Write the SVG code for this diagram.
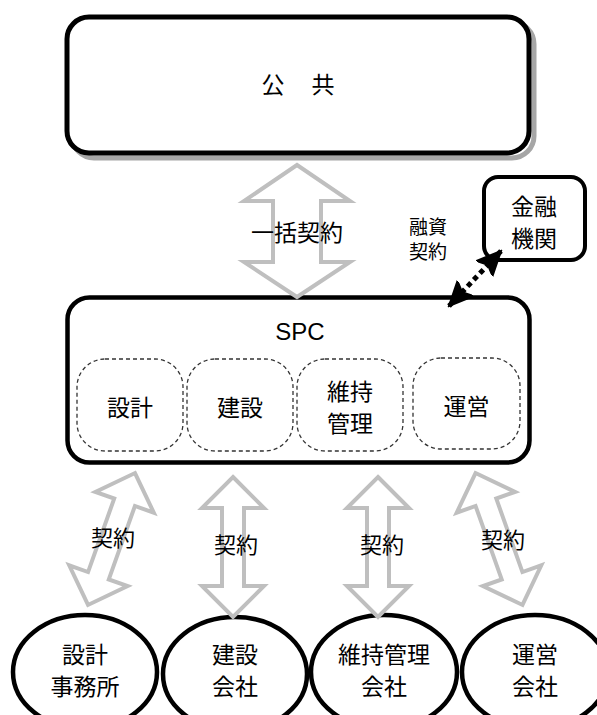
<svg xmlns="http://www.w3.org/2000/svg" width="597" height="715" viewBox="0 0 597 715">
<style>
  .t { font-family: "Noto Sans CJK JP", "Noto Sans", sans-serif; fill: #000; text-anchor: middle; }
  .l { font-size: 23px; }
  .s { font-size: 22px; }
  .xs { font-size: 19px; }
  .box { fill: #fff; stroke: #000; }
  .sub { fill: none; stroke: #333; stroke-width: 1.3; stroke-dasharray: 4 3; }
  .ell { fill: #fff; stroke: #000; stroke-width: 4.5; }
  .garrow { fill: #fff; stroke: #bfbfbf; stroke-width: 4; stroke-linejoin: miter; }
</style>
<defs>
  <path id="sa" d="M0,-70 L31,-39 L11,-39 L11,39 L31,39 L0,70 L-31,39 L-11,39 L-11,-39 L-31,-39 Z"/>
  <marker id="ah" markerUnits="userSpaceOnUse" viewBox="0 0 26 26" markerWidth="26" markerHeight="26" refX="24" refY="13" orient="auto-start-reverse">
    <path d="M0,2 L24,13 L0,24 L5,13 Z" fill="#000" stroke="#000" stroke-width="2" stroke-linejoin="miter"/>
  </marker>
</defs>

<g id="koukyou">
  <rect x="72" y="22" width="462" height="136" rx="22" fill="none" stroke="#a6a6a6" stroke-width="5"/>
  <rect class="box" x="67" y="17" width="462" height="136" rx="22" stroke-width="5"/>
  <text class="t l" x="299" y="93" letter-spacing="2">公　共</text>
</g>

<g id="spc">
  <rect class="box" x="67.5" y="297.5" width="462" height="165" rx="22" stroke-width="4.5"/>
  <text x="300" y="340" font-family="Liberation Sans, Arial, sans-serif" font-size="24" text-anchor="middle">SPC</text>
</g>

<g id="spc-sekkei">
  <rect class="sub" x="77" y="359" width="106" height="92" rx="28"/>
  <text class="t l" x="130" y="416">設計</text>
</g>
<g id="spc-kensetsu">
  <rect class="sub" x="187" y="359" width="106" height="92" rx="28"/>
  <text class="t l" x="240" y="416">建設</text>
</g>
<g id="spc-iji">
  <rect class="sub" x="297" y="359" width="106" height="92" rx="28"/>
  <text class="t l" x="350" y="400">維持</text>
  <text class="t l" x="350" y="432">管理</text>
</g>
<g id="spc-unei">
  <rect class="sub" x="413" y="358" width="107" height="91" rx="28"/>
  <text class="t l" x="466.5" y="415">運営</text>
</g>

<g id="kinyu">
  <rect class="box" x="484" y="177" width="101" height="83" rx="14" stroke-width="4"/>
  <text class="t l" x="534" y="215">金融</text>
  <text class="t l" x="534" y="247">機関</text>
</g>

<g id="e-sekkei">
  <ellipse class="ell" cx="85" cy="672" rx="72" ry="57"/>
  <text class="t l" x="85" y="663">設計</text>
  <text class="t l" x="85" y="695">事務所</text>
</g>
<g id="e-kensetsu">
  <ellipse class="ell" cx="235" cy="674" rx="72" ry="57"/>
  <text class="t l" x="235" y="663">建設</text>
  <text class="t l" x="235" y="695">会社</text>
</g>
<g id="e-iji">
  <ellipse class="ell" cx="384" cy="672" rx="73" ry="57"/>
  <text class="t l" x="384" y="663">維持管理</text>
  <text class="t l" x="384" y="695">会社</text>
</g>
<g id="e-unei">
  <ellipse class="ell" cx="535" cy="672" rx="73" ry="57"/>
  <text class="t l" x="535" y="663">運営</text>
  <text class="t l" x="535" y="695">会社</text>
</g>

<g id="connectors">
  <path class="garrow" d="M297,165 L350,201 L321,201 L321,262 L350,262 L297,297 L244,262 L273,262 L273,201 L244,201 Z"/>
  <text class="t l" x="297" y="241">一括契約</text>

  <line x1="449" y1="306" x2="501" y2="251" stroke="#000" stroke-width="5" stroke-dasharray="5 4" marker-start="url(#ah)" marker-end="url(#ah)"/>
  <text class="t xs" x="428" y="234">融資</text>
  <text class="t xs" x="428" y="259">契約</text>

  <use href="#sa" class="garrow" transform="translate(111.5,539) rotate(19.6)"/>
  <text class="t s" x="113" y="546">契約</text>
  <use href="#sa" class="garrow" transform="translate(233,547)"/>
  <text class="t s" x="236" y="553">契約</text>
  <use href="#sa" class="garrow" transform="translate(378,547)"/>
  <text class="t s" x="382" y="553">契約</text>
  <use href="#sa" class="garrow" transform="translate(499,539) rotate(-19.6)"/>
  <text class="t s" x="503" y="548">契約</text>
</g>
</svg>
